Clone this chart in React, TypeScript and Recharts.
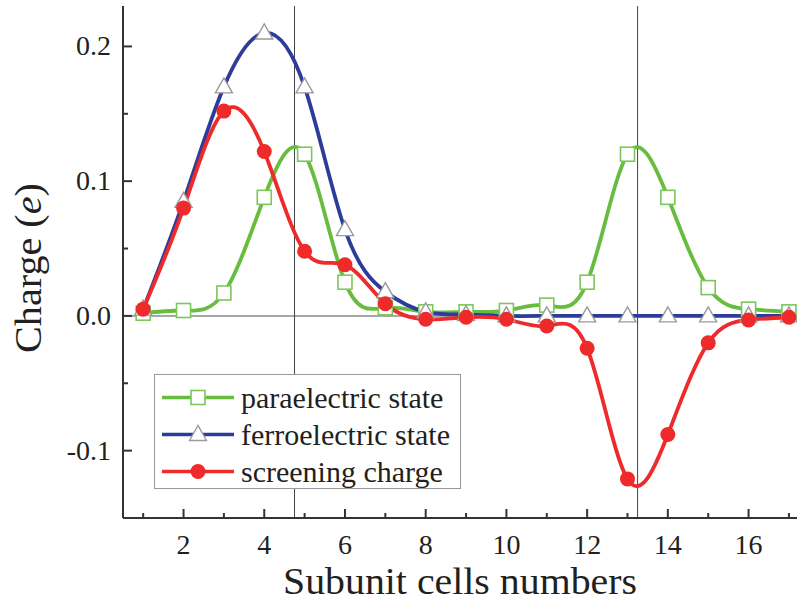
import { LineChart, Line, XAxis, YAxis, ReferenceLine, Legend, Label } from "recharts";

const cells = [1, 2, 3, 4, 5, 6, 7, 8, 9, 10, 11, 12, 13, 14, 15, 16, 17];
const paraelectric = [0.002, 0.004, 0.017, 0.088, 0.12, 0.025, 0.006, 0.003, 0.003, 0.004, 0.008, 0.025, 0.12, 0.088, 0.021, 0.005, 0.003];
const ferroelectric = [0.005, 0.085, 0.17, 0.21, 0.17, 0.064, 0.018, 0.003, 0.001, 0, 0, 0, 0, 0, 0, 0, 0];
const screening = [0.005, 0.08, 0.152, 0.122, 0.048, 0.038, 0.009, -0.0025, -0.001, -0.0025, -0.0075, -0.024, -0.121, -0.088, -0.02, -0.003, -0.001];

const xTicks = cells;
const yTicks = [-0.1, -0.05, 0, 0.05, 0.1, 0.15, 0.2];
const xMajor = [2, 4, 6, 8, 10, 12, 14, 16];
const yMajor = [-0.1, 0, 0.1, 0.2];
const markerX = [4.75, 13.25];

const seriesNames = ["paraelectric state", "ferroelectric state", "screening charge"];

const data = cells.map((c, i) => ({
  cell: c,
  para: paraelectric[i],
  ferro: ferroelectric[i],
  screen: screening[i],
}));

const SERIF = "'Liberation Serif', 'DejaVu Serif', serif";
const INK = "#231f20";
const AXIS = "#333";
const GREEN = "#68bd3f";
const BLUE = "#2d3b9a";
const RED = "#ee2a2a";

const isMajor = (v: number, majors: number[]) => majors.some((m) => Math.abs(m - v) < 1e-9);

function Square({ cx, cy }: { cx: number; cy: number }) {
  return <rect x={cx - 7} y={cy - 7} width={14} height={14} fill="#fff" stroke="#7cc75a" strokeWidth={1.6} />;
}
function Triangle({ cx, cy }: { cx: number; cy: number }) {
  return (
    <polygon
      points={`${cx},${cy - 9} ${cx - 8.5},${cy + 6} ${cx + 8.5},${cy + 6}`}
      fill="#fff"
      stroke="#9a9a9a"
      strokeWidth={1.4}
    />
  );
}
function Dot({ cx, cy }: { cx: number; cy: number }) {
  return <circle cx={cx} cy={cy} r={7.5} fill={RED} />;
}

const markers = [Square, Triangle, Dot];
const colors = [GREEN, BLUE, RED];

function makeTick(side: "bottom" | "top" | "left" | "right") {
  return (props: any) => {
    const { x, y, payload } = props;
    const v = payload.value as number;
    const major = side === "bottom" || side === "top" ? isMajor(v, xMajor) : isMajor(v, yMajor);
    const len = major ? 9 : 5;
    let line;
    if (side === "bottom") line = <line x1={x} y1={y} x2={x} y2={y - len} stroke={AXIS} strokeWidth={2} />;
    else if (side === "top") line = <line x1={x} y1={y} x2={x} y2={y + len} stroke={AXIS} strokeWidth={2} />;
    else if (side === "left") line = <line x1={x} y1={y} x2={x + len} y2={y} stroke={AXIS} strokeWidth={2} />;
    else line = <line x1={x} y1={y} x2={x - len} y2={y} stroke={AXIS} strokeWidth={2} />;
    let label = null;
    if (major && side === "bottom")
      label = (
        <text x={x} y={y + 36} textAnchor="middle" fontFamily={SERIF} fontSize={28} fill={INK}>
          {v}
        </text>
      );
    if (major && side === "left")
      label = (
        <text x={x - 12} y={y + 9} textAnchor="end" fontFamily={SERIF} fontSize={28} fill={INK}>
          {v.toFixed(1)}
        </text>
      );
    return (
      <g>
        {line}
        {label}
      </g>
    );
  };
}

function LegendBox() {
  return (
    <div
      style={{
        width: 307,
        height: 115,
        boxSizing: "border-box",
        border: "1.5px solid #9a9a9a",
        background: "#fff",
        paddingTop: 4,
        fontFamily: SERIF,
        fontSize: 30,
        color: INK,
        whiteSpace: "nowrap",
      }}
    >
      {seriesNames.map((name, i) => {
        const M = markers[i];
        return (
          <div key={name} style={{ display: "flex", alignItems: "center", height: 37 }}>
            <svg width={86} height={37} style={{ display: "block", flex: "none" }}>
              <line x1={7} y1={18.5} x2={79} y2={18.5} stroke={colors[i]} strokeWidth={3.5} />
              <M cx={43} cy={18.5} />
            </svg>
            <span style={{ lineHeight: "37px" }}>{name}</span>
          </div>
        );
      })}
    </div>
  );
}

export default function App() {
  return (
    <div style={{ position: "absolute", left: 0, top: 0, width: 799, height: 605, background: "#fff" }}>
      <LineChart width={799} height={605} data={data} margin={{ top: 6, right: 2, left: 0, bottom: 0 }}>
        <XAxis
          dataKey="cell"
          type="number"
          domain={[0.5, 17.2]}
          ticks={xTicks}
          allowDataOverflow
          height={87}
          tickLine={false}
          tickSize={0}
          tickMargin={0}
          interval={0}
          axisLine={{ stroke: AXIS, strokeWidth: 2 }}
          tick={makeTick("bottom")}
        >
          <Label
            content={() => (
              <text
                x={460}
                y={594}
                textAnchor="middle"
                fontFamily={SERIF}
                fontSize={37}
                fill={INK}
                textLength={354}
                lengthAdjust="spacingAndGlyphs"
              >
                Subunit cells numbers
              </text>
            )}
          />
        </XAxis>
        <XAxis
          xAxisId="top"
          orientation="top"
          dataKey="cell"
          type="number"
          domain={[0.5, 17.2]}
          ticks={xTicks}
          allowDataOverflow
          height={0}
          tickLine={false}
          tickSize={0}
          tickMargin={0}
          interval={0}
          axisLine={{ stroke: AXIS, strokeWidth: 2 }}
          tick={makeTick("top")}
        />
        <YAxis
          type="number"
          domain={[-0.15, 0.23]}
          ticks={yTicks}
          allowDataOverflow
          width={123}
          tickLine={false}
          tickSize={0}
          tickMargin={0}
          interval={0}
          axisLine={{ stroke: AXIS, strokeWidth: 2 }}
          tick={makeTick("left")}
        >
          <Label
            content={() => (
              <text
                x={0}
                y={0}
                transform="translate(41 268) rotate(-90)"
                textAnchor="middle"
                fontFamily={SERIF}
                fontSize={37}
                fill={INK}
                textLength={170}
                lengthAdjust="spacingAndGlyphs"
              >
                Charge (<tspan fontStyle="italic">e</tspan>)
              </text>
            )}
          />
        </YAxis>
        <YAxis
          yAxisId="right"
          orientation="right"
          type="number"
          domain={[-0.15, 0.23]}
          ticks={yTicks}
          allowDataOverflow
          width={0}
          tickLine={false}
          tickSize={0}
          tickMargin={0}
          interval={0}
          axisLine={{ stroke: AXIS, strokeWidth: 2 }}
          tick={makeTick("right")}
        />
        <ReferenceLine y={0} stroke="#8a8a8a" strokeWidth={1.5} />
        {markerX.map((mx) => (
          <ReferenceLine key={mx} x={mx} stroke="#444" strokeWidth={1} />
        ))}
        <Line
          dataKey="para"
          type="natural"
          stroke={GREEN}
          strokeWidth={3.8}
          isAnimationActive={false}
          dot={(p: any) => <Square key={`s${p.index}`} cx={p.cx} cy={p.cy} />}
        />
        <Line
          dataKey="ferro"
          type="natural"
          stroke={BLUE}
          strokeWidth={3.8}
          isAnimationActive={false}
          dot={(p: any) => <Triangle key={`t${p.index}`} cx={p.cx} cy={p.cy} />}
        />
        <Line
          dataKey="screen"
          type="natural"
          stroke={RED}
          strokeWidth={3.8}
          isAnimationActive={false}
          dot={(p: any) => <Dot key={`c${p.index}`} cx={p.cx} cy={p.cy} />}
        />
        <Legend
          layout="horizontal"
          verticalAlign="middle"
          align="center"
          wrapperStyle={{ left: 154, top: 374, width: 307, height: 115 }}
          content={() => <LegendBox />}
        />
      </LineChart>
    </div>
  );
}
